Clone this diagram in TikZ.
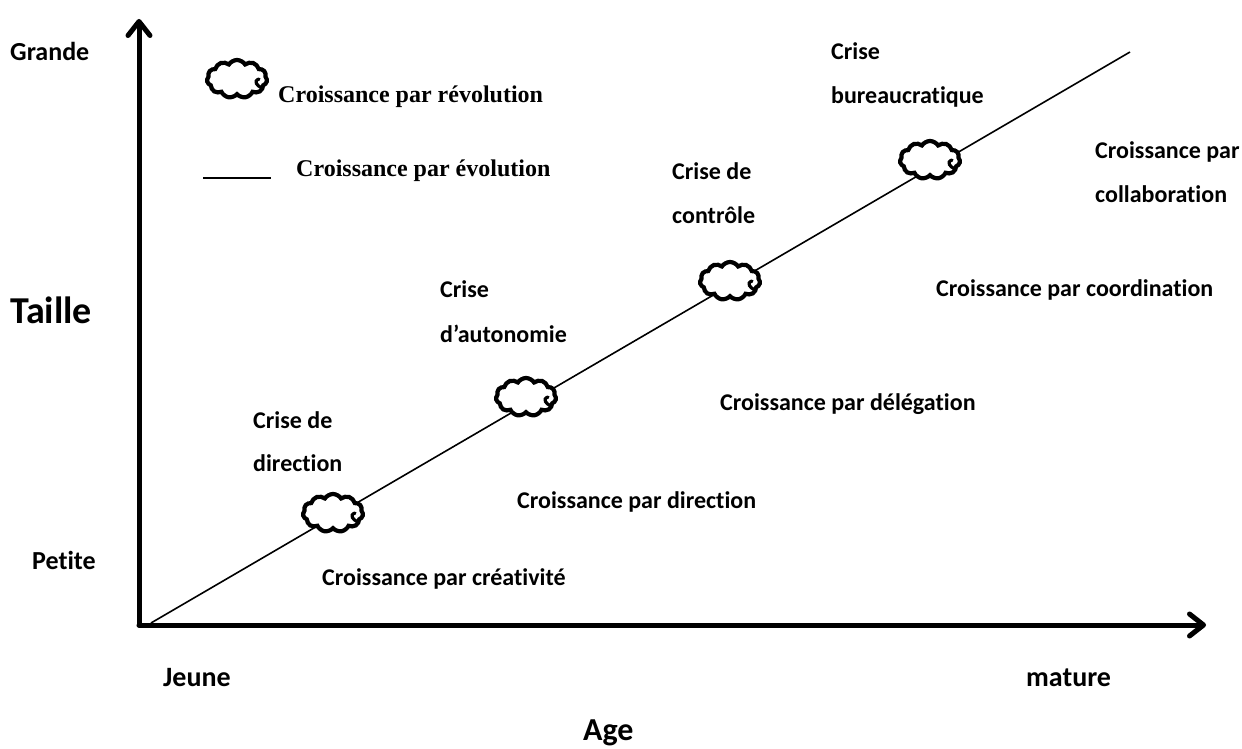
\documentclass[tikz,border=0pt]{standalone}
\usepackage{fontspec}
\setmainfont{Carlito}[Ligatures={NoCommon}]
\newfontfamily\legendfont{Liberation Serif}
\usetikzlibrary{arrows.meta,shapes.symbols}

\begin{document}
\begin{tikzpicture}[x=1pt,y=-1pt,
  lbl/.style={font=\bfseries\fontsize{24}{28}\selectfont, anchor=base west, inner sep=0pt},
  axlbl/.style={lbl, font=\bfseries\fontsize{#1}{#1}\selectfont},
  leg/.style={font=\legendfont\bfseries\fontsize{24}{28}\selectfont, anchor=base west, inner sep=0pt},
  axis/.style={line width=5pt, line cap=round, line join=round,
    -{Straight Barb[length=14pt,width=22pt,line cap=round,line join=round]}},
  evol/.style={line width=1.6pt},
  crisis/.style={cloud, draw, fill=white, line width=4.2pt, cloud puffs=11,
    cloud puff arc=115, aspect=1.55, minimum width=60pt, minimum height=38pt, inner sep=0pt},
  curl/.style={line width=3.2pt, line cap=round},
]
\useasboundingbox (0,0) rectangle (1242,749);

% axes
\coordinate (O) at (139,625);
\coordinate (ytip) at (139,19);
\coordinate (xtip) at (1206,625);
\draw[axis, gray!25, line width=5pt, xshift=2pt, yshift=-3pt] (O) -- (xtip);
\draw[axis] (O) -- (ytip);
\draw[axis] (O) -- (xtip);

% evolution line
\coordinate (start) at (151,623);
\coordinate (end) at (1130,52);
\draw[evol] (start) -- (end);

% revolutions (crises), each with the small inner curl of the cloud
\node[crisis] (c1) at (333,513) {};
\node[crisis] (c2) at (526,397) {};
\node[crisis] (c3) at (730,281) {};
\node[crisis] (c4) at (930,160) {};
\node[crisis] (lc) at (237,79) {};
\foreach \c in {c1,c2,c3,c4,lc}
  \draw[curl] (\c.center) ++(22,0) .. controls +(-6,2) and +(-5,-2) .. ++(3,9);

% legend
\node[leg] (lrev) at (278,103) {Croissance par révolution};
\coordinate (la) at (203,178);
\coordinate (lb) at (271,178);
\draw[evol] (la) -- (lb);
\node[leg] (levo) at (296,176) {Croissance par évolution};

% axis labels
\node[axlbl=26] (grande) at (10,61) {Grande};
\node[axlbl=38] (taille) at (10,323) {Taille};
\node[axlbl=26] (petite) at (32,569) {Petite};
\node[axlbl=28] (jeune) at (163,686) {Jeune};
\node[axlbl=28] (mature) at (1026,686) {mature};
\node[axlbl=32] (age) at (583,740) {Age};

% stage labels
\node[lbl] (b1) at (831,60) {Crise};
\node[lbl] (b2) at (831,104) {bureaucratique};
\node[lbl] (k1) at (1095,158) {Croissance par};
\node[lbl] (k2) at (1095,202) {collaboration};
\node[lbl] (t1) at (672,179) {Crise de};
\node[lbl] (t2) at (672,223) {contrôle};
\node[lbl] (co) at (936,296) {Croissance par coordination};
\node[lbl] (a1) at (440,297) {Crise};
\node[lbl] (a2) at (440,342) {d’autonomie};
\node[lbl] (de) at (720,410) {Croissance par délégation};
\node[lbl] (d1) at (253,428) {Crise de};
\node[lbl] (d2) at (253,471) {direction};
\node[lbl] (di) at (517,508) {Croissance par direction};
\node[lbl] (cr) at (322,585) {Croissance par créativité};
\end{tikzpicture}
\end{document}
